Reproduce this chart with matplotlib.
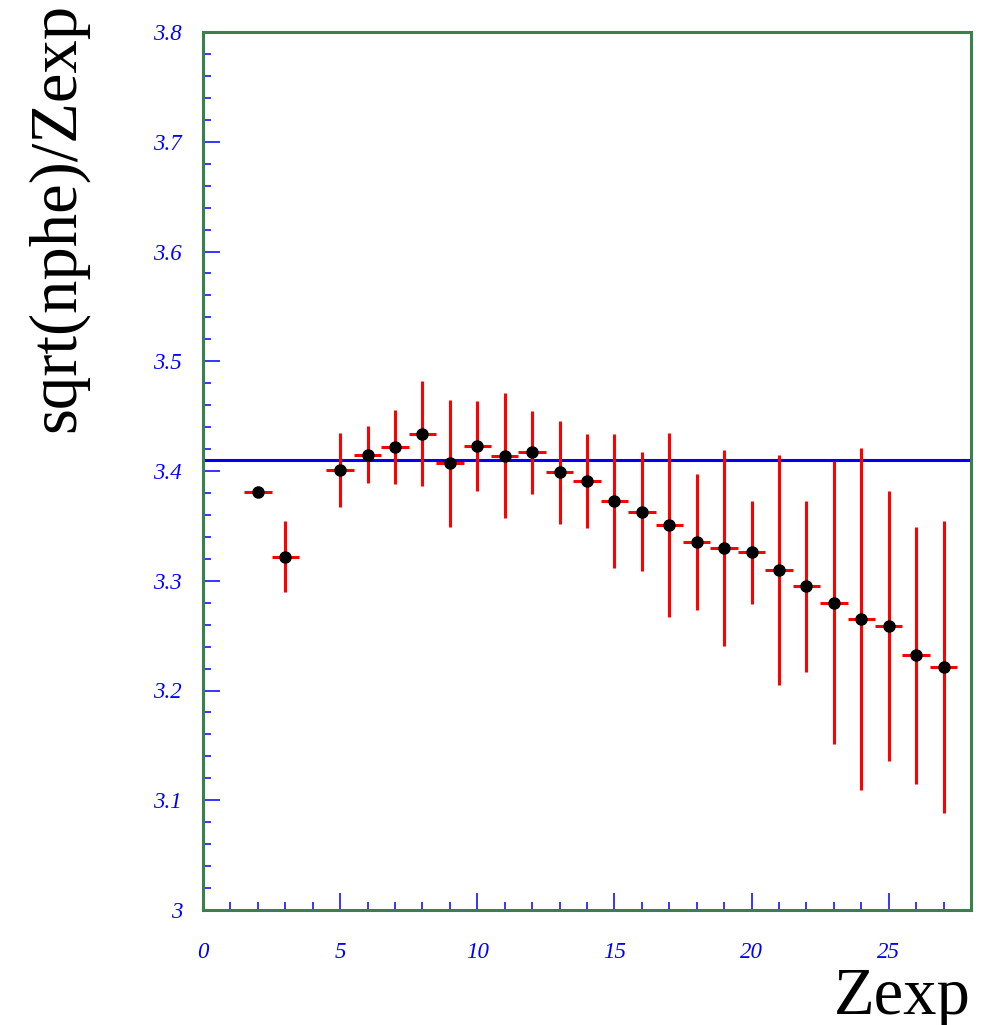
import matplotlib
matplotlib.use("Agg")
import matplotlib.pyplot as plt
from matplotlib.ticker import MultipleLocator, FuncFormatter

# Mean sqrt(nphe)/Zexp per charge bin, with uncertainties
zexp = [2, 3, 5, 6, 7, 8, 9, 10, 11, 12, 13, 14, 15, 16, 17,
        18, 19, 20, 21, 22, 23, 24, 25, 26, 27]
ratio = [3.381, 3.322, 3.401, 3.415, 3.422, 3.434, 3.407, 3.423, 3.414,
         3.417, 3.399, 3.391, 3.373, 3.363, 3.351, 3.335, 3.330, 3.326,
         3.310, 3.295, 3.280, 3.265, 3.259, 3.232, 3.221]
ratio_err = [0.0, 0.032, 0.034, 0.026, 0.034, 0.048, 0.058, 0.041, 0.057,
             0.038, 0.047, 0.043, 0.061, 0.054, 0.084, 0.062, 0.089, 0.047,
             0.105, 0.078, 0.129, 0.156, 0.123, 0.117, 0.133]
zexp_halfwidth = [0.5] * len(zexp)
fit_level = 3.41

fig = plt.figure(figsize=(9.93, 10.25), dpi=100)
ax = fig.add_axes([203 / 993, 1 - 910 / 1025, 768 / 993, 878 / 1025])

ax.axhline(fit_level, color="#0000ee", lw=2.2, zorder=2)
ax.errorbar(zexp, ratio, yerr=ratio_err, xerr=zexp_halfwidth, fmt="o",
            color="black", ms=8, ecolor="#ff0000", elinewidth=2.2,
            capsize=0, zorder=3)

ax.set_xlim(0, 28)
ax.set_ylim(3.0, 3.8)

for side in ("left", "right", "top", "bottom"):
    ax.spines[side].set_color("#3b7f4f")
    ax.spines[side].set_linewidth(2.2)

ax.xaxis.set_major_locator(MultipleLocator(5))
ax.xaxis.set_minor_locator(MultipleLocator(1))
ax.yaxis.set_major_locator(MultipleLocator(0.1))
ax.yaxis.set_minor_locator(MultipleLocator(0.02))
ax.yaxis.set_major_formatter(FuncFormatter(lambda v, p: f"{v:g}"))
ax.xaxis.set_major_formatter(FuncFormatter(lambda v, p: f"{v:g}"))

ax.tick_params(which="both", direction="in", color="#0000ff", width=1.1,
               top=False, right=False)
ax.tick_params(which="major", length=12.2)
ax.tick_params(which="minor", length=5.8)
ax.tick_params(axis="x", which="major", pad=23)
ax.tick_params(axis="y", which="major", pad=15)

for lab in ax.get_xticklabels() + ax.get_yticklabels():
    lab.set_fontfamily("Liberation Serif")
    lab.set_fontstyle("italic")
    lab.set_fontsize(16.5)
    lab.set_color("#0000ff")

fig.text(971 / 993, 1 - 1014 / 1025, "Zexp", ha="right", va="baseline",
         family="Liberation Serif", fontsize=48, color="black")
fig.text(57 / 993, 1 - 217 / 1025, "sqrt(nphe)/Zexp", ha="center",
         va="center", rotation=90, family="Liberation Serif", fontsize=48,
         color="black")

fig.savefig("out.png", dpi=100)
